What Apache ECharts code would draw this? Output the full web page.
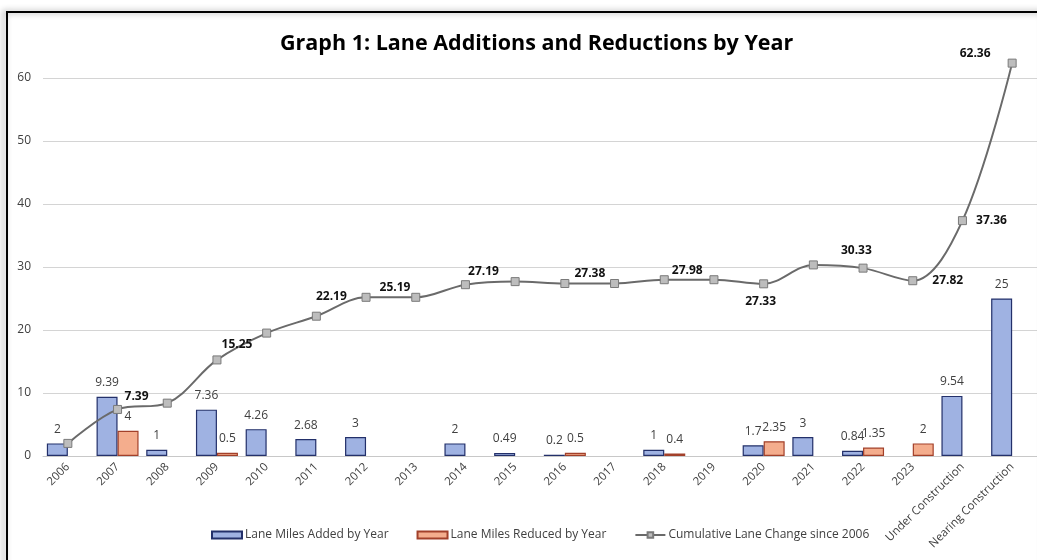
<!DOCTYPE html>
<html>
<head>
<meta charset="utf-8">
<style>
  html, body { margin: 0; padding: 0; background: #fff; }
  #chart { width: 1037px; height: 560px; }
</style>
<script src="https://cdn.jsdelivr.net/npm/echarts@6/dist/echarts.min.js"></script>
</head>
<body>
<div id="chart"></div>
<script>
// categories and values
var categories = ['2006', '2007', '2008', '2009', '2010', '2011', '2012', '2013', '2014', '2015',
  '2016', '2017', '2018', '2019', '2020', '2021', '2022', '2023', 'Under Construction', 'Nearing Construction']
var milesAdded = [2, 9.39, 1, 7.36, 4.26, 2.68, 3, null, 2, 0.49,
  0.2, null, 1, null, 1.7, 3, 0.84, null, 9.54, 25]
var milesReduced = [null, 4, null, 0.5, null, null, null, null, null, null,
  0.5, null, 0.4, null, 2.35, null, 1.35, 2, null, null]
var cumulative = [2, 7.39, 8.39, 15.25, 19.51, 22.19, 25.19, 25.19, 27.19, 27.68,
  27.38, 27.38, 27.98, 27.98, 27.33, 30.33, 29.82, 27.82, 37.36, 62.36]
var yTicks = [0, 10, 20, 30, 40, 50, 60]

// which cumulative points carry a label, and where (like the manually placed labels in excel)
var lineLabelOffsets = {
  1: [19, -13],
  3: [20, -15],
  5: [15, -20],
  6: [29, -10],
  8: [18, -13],
  10: [25, -10],
  12: [23, -9],
  14: [-3, 18],
  15: [43, -14],
  17: [35, 0],
  18: [29, 0],
  19: [-37, -10]
}

var textColor = '#404040'
var font = 'Open Sans'

var chart = echarts.init(document.getElementById('chart'))

var lineData = cumulative.map(function (v, i) {
  var off = lineLabelOffsets[i]
  if (!off) return { value: v, label: { show: false } }
  return {
    value: v,
    label: { show: true, position: 'inside', offset: off }
  }
})

chart.setOption({
  animation: false,
  textStyle: { fontFamily: font },
  title: {
    text: 'Graph 1: Lane Additions and Reductions by Year',
    left: 280,
    top: 33,
    padding: 0,
    textStyle: {
      fontFamily: font,
      fontSize: 21.5,
      fontWeight: 'bold',
      color: '#000'
    }
  },
  graphic: [{
    type: 'rect',
    shape: { x: 7, y: 12, width: 1040, height: 560 },
    style: {
      fill: 'none',
      stroke: '#000',
      lineWidth: 2,
      shadowBlur: 6,
      shadowOffsetX: -3,
      shadowColor: 'rgba(0,0,0,0.45)'
    },
    z: 100
  }],
  grid: {
    left: 43,
    right: 0,
    top: 15,
    bottom: 104
  },
  legend: {
    left: 211,
    top: 529,
    padding: 0,
    itemWidth: 30,
    itemHeight: 7,
    itemGap: 28,
    textStyle: { color: textColor, fontSize: 12, fontFamily: font, padding: [0, 0, 0, -2] },
    data: [
      { name: 'Lane Miles Added by Year', icon: 'rect' },
      { name: 'Lane Miles Reduced by Year', icon: 'rect' },
      { name: 'Cumulative Lane Change since 2006' }
    ]
  },
  xAxis: {
    type: 'category',
    data: categories,
    axisTick: { show: false },
    axisLine: { lineStyle: { color: '#c8c8c8', width: 1 } },
    axisLabel: {
      rotate: 45,
      interval: 0,
      color: textColor,
      fontSize: 11.5,
      margin: 9
    }
  },
  yAxis: {
    type: 'value',
    min: yTicks[0],
    max: 70,
    interval: 10,
    axisLine: { show: false },
    axisTick: { show: false },
    axisLabel: {
      color: textColor,
      fontSize: 12,
      margin: 12,
      showMaxLabel: false
    },
    splitLine: {
      showMaxLine: false,
      lineStyle: { color: '#d4d4d4', width: 1 }
    }
  },
  series: [
    {
      name: 'Lane Miles Added by Year',
      type: 'bar',
      barWidth: 21,
      barGap: '0%',
      itemStyle: {
        color: '#9fb2e2',
        borderColor: '#23306a',
        borderWidth: 1.2
      },
      label: {
        show: true,
        position: 'top',
        distance: 8,
        color: textColor,
        fontSize: 12
      },
      data: milesAdded
    },
    {
      name: 'Lane Miles Reduced by Year',
      type: 'bar',
      barWidth: 21,
      barGap: '0%',
      itemStyle: {
        color: '#f4ad8d',
        borderColor: '#a2402a',
        borderWidth: 1.2
      },
      label: {
        show: true,
        position: 'top',
        distance: 8,
        color: textColor,
        fontSize: 12
      },
      data: milesReduced
    },
    {
      name: 'Cumulative Lane Change since 2006',
      type: 'line',
      smooth: 0.35,
      symbol: 'rect',
      symbolSize: 8,
      lineStyle: { color: '#6a6a6a', width: 2 },
      itemStyle: {
        color: '#bdbdbd',
        borderColor: '#7a7a7a',
        borderWidth: 1
      },
      label: {
        color: '#111',
        fontSize: 12,
        fontWeight: 'bold'
      },
      z: 5,
      data: lineData
    }
  ]
})
</script>
</body>
</html>
